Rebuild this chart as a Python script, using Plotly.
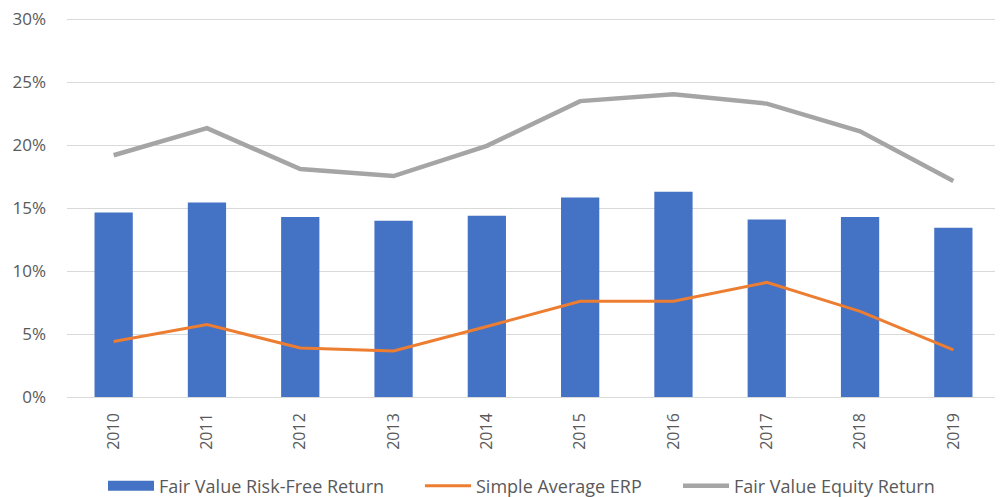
import plotly.graph_objects as go

years = ["2010", "2011", "2012", "2013", "2014", "2015", "2016", "2017", "2018", "2019"]
risk_free = [14.65, 15.45, 14.3, 14.0, 14.4, 15.85, 16.3, 14.1, 14.3, 13.45]
erp = [4.4, 5.75, 3.9, 3.65, 5.6, 7.6, 7.6, 9.1, 6.8, 3.75]
equity = [19.2, 21.35, 18.1, 17.55, 19.95, 23.5, 24.05, 23.3, 21.1, 17.15]
y_ticks = [0, 5, 10, 15, 20, 25, 30]

font_family = "Open Sans, Noto Sans, sans-serif"
tick_color = "#595959"
bar_color = "#4472C4"
W, H = 995, 489  # page body has an 8px margin, so the figure is sized to compensate

fig = go.Figure()
fig.add_trace(go.Bar(x=years, y=risk_free, name="Fair Value Risk-Free Return",
                     marker=dict(color=bar_color, line=dict(width=0)), showlegend=False))
# legend swatch for bars (wide rectangle like the original)
fig.add_trace(go.Scatter(x=[None], y=[None], name="Fair Value Risk-Free Return", mode="lines",
                         line=dict(color=bar_color, width=13), hoverinfo="skip", legend="legend"))
fig.add_trace(go.Scatter(x=years, y=erp, name="Simple Average ERP", mode="lines",
                         line=dict(color="#ED7D31", width=3), legend="legend2"))
fig.add_trace(go.Scatter(x=years, y=equity, name="Fair Value Equity Return", mode="lines",
                         line=dict(color="#A5A5A5", width=4.5), legend="legend3"))

def leg(x0):
    return dict(orientation="h", x=x0 / W, xanchor="left", xref="container",
                y=11 / H, yanchor="middle", yref="container",
                font=dict(size=18, color=tick_color), itemwidth=46,
                bgcolor="rgba(0,0,0,0)", borderwidth=0)

fig.update_layout(
    width=W, height=H,
    margin=dict(l=59, r=3, t=9.5, b=100, autoexpand=False),
    plot_bgcolor="white", paper_bgcolor="white",
    bargap=0.59,
    font=dict(family=font_family, color=tick_color, size=16),
    showlegend=True,
    legend=leg(95),
    legend2=leg(412),
    legend3=leg(670),
    xaxis=dict(tickangle=-90, showgrid=False, showline=False, ticks="",
               tickfont=dict(size=16, color=tick_color), automargin=False,
               ticklabelstandoff=12),
    yaxis=dict(range=[0, 30.1], tickvals=y_ticks, ticktext=[f"{v}%" for v in y_ticks],
               showgrid=True, gridcolor="#D9D9D9", gridwidth=1.3, zeroline=True,
               zerolinecolor="#D9D9D9", zerolinewidth=1.3, showline=False, ticks="",
               tickfont=dict(size=17, color=tick_color), ticklabelstandoff=20,
               ticklabeloverflow="allow", automargin=False),
)

fig.write_html("out.html")
